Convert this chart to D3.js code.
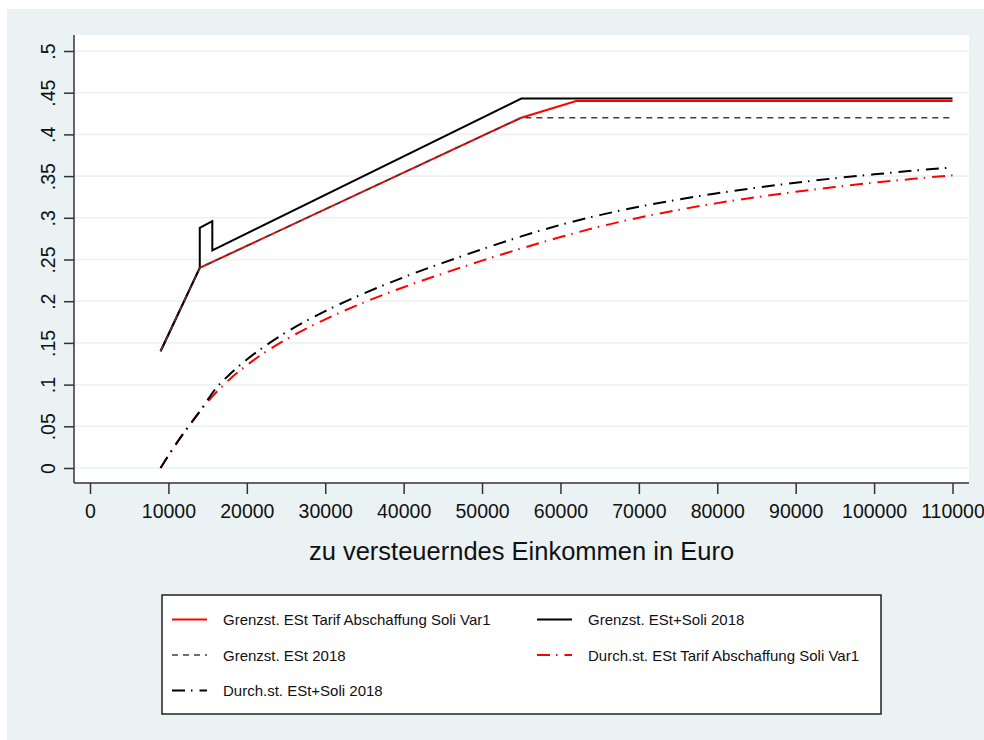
<!DOCTYPE html>
<meta charset="utf-8">

<style>
	body { margin: 0; background: #ffffff; }
	svg { display: block; font-family: "Liberation Sans", Arial, sans-serif; }
</style>

<svg width="984" height="740"></svg>

<script src="https://cdn.jsdelivr.net/npm/d3@7/dist/d3.min.js"></script>

<script>

	// data
	var yTicks = [0, 0.05, 0.1, 0.15, 0.2, 0.25, 0.3, 0.35, 0.4, 0.45, 0.5];
	var xTicks = [0, 10000, 20000, 30000, 40000, 50000, 60000, 70000, 80000, 90000, 100000, 110000];

	// marginal rates (piecewise linear)
	var incGrenzVar1 = [9000, 14000, 55000, 62000, 110000];
	var grenzVar1    = [0.14, 0.24, 0.42, 0.44, 0.44];

	var incGrenzSoli = [9000, 14000, 14000, 15600, 15600, 55000, 110000];
	var grenzSoli    = [0.14, 0.24, 0.288, 0.296, 0.261, 0.443, 0.443];

	var incGrenz2018 = [9000, 14000, 55000, 110000];
	var grenz2018    = [0.14, 0.24, 0.42, 0.42];

	// average rates
	var incAvg = [9000, 10000, 12000, 14000, 16000, 18000, 20000, 25000, 30000, 35000, 40000, 45000, 50000,
	              55000, 60000, 65000, 70000, 75000, 80000, 85000, 90000, 95000, 100000, 105000, 110000];
	var durchVar1 = [0, 0.015, 0.0425, 0.0678, 0.0899, 0.108, 0.1233, 0.1541, 0.1783, 0.1987, 0.2168, 0.2332, 0.2486,
	                 0.2632, 0.2769, 0.2894, 0.3001, 0.3094, 0.3176, 0.3248, 0.3312, 0.3369, 0.3421, 0.3467, 0.351];
	var durchSoli = [0, 0.015, 0.0425, 0.0678, 0.0948, 0.1139, 0.130, 0.1626, 0.1881, 0.2096, 0.2287, 0.2460, 0.2623,
	                 0.2777, 0.2915, 0.3032, 0.3132, 0.3218, 0.3294, 0.3361, 0.3420, 0.3474, 0.3521, 0.3565, 0.3604];

	var legendLabels = [
		"Grenzst. ESt Tarif Abschaffung Soli Var1",
		"Grenzst. ESt+Soli 2018",
		"Grenzst. ESt 2018",
		"Durch.st. ESt Tarif Abschaffung Soli Var1",
		"Durch.st. ESt+Soli 2018"
	];

	var svg = d3.select("svg");

	var plot = {left: 74, right: 969, top: 35, bottom: 483};

	var x = d3.scaleLinear().domain([0, 110000]).range([90, 952.5]);
	var y = d3.scaleLinear().domain([0, 0.5]).range([468, 51]);

	var bg = "#eaf2f3";
	var textColor = "#111";

	// outer background + plot region
	svg.append("rect").attr("x", 7).attr("y", 9).attr("width", 977).attr("height", 731).attr("fill", bg);
	svg.append("rect")
		.attr("x", plot.left).attr("y", plot.top)
		.attr("width", plot.right - plot.left).attr("height", plot.bottom - plot.top)
		.attr("fill", "#fff");

	// grid
	svg.append("g").selectAll("line")
		.data(yTicks)
		.enter().append("line")
			.attr("x1", plot.left).attr("x2", plot.right)
			.attr("y1", function(d) { return y(d); })
			.attr("y2", function(d) { return y(d); })
			.attr("stroke", bg)
			.attr("stroke-width", 1.6);

	// y axis
	var yAxis = svg.append("g")
		.attr("transform", "translate(" + plot.left + ",0)")
		.call(d3.axisLeft(y).tickValues(yTicks).tickSize(10).tickPadding(0)
			.tickFormat(function(d) { return d === 0 ? "0" : d3.format(".2~f")(d).replace(/^0/, ""); }));
	yAxis.select(".domain").attr("d", "M0," + plot.top + "V" + plot.bottom);

	yAxis.selectAll("text")
		.attr("x", 0).attr("dy", 0)
		.attr("transform", "translate(-19,0) rotate(-90)")
		.attr("text-anchor", "middle")
		.attr("font-size", 19.5)
		.attr("font-family", "'Liberation Sans', Arial, sans-serif")
		.attr("fill", textColor);

	// x axis
	var xAxis = svg.append("g")
		.attr("transform", "translate(0," + plot.bottom + ")")
		.call(d3.axisBottom(x).tickValues(xTicks).tickSize(11).tickPadding(0).tickFormat(d3.format("d")));
	xAxis.select(".domain").attr("d", "M" + plot.left + ",0H" + plot.right);
	xAxis.selectAll("text")
		.attr("y", 35).attr("dy", 0)
		.attr("font-size", 19.5)
		.attr("font-family", "'Liberation Sans', Arial, sans-serif")
		.attr("fill", textColor);

	svg.selectAll(".domain, .tick line").attr("stroke", "#333").attr("stroke-width", 1.5);

	svg.append("text")
		.attr("x", (plot.left + plot.right) / 2)
		.attr("y", 560)
		.attr("text-anchor", "middle")
		.attr("font-size", 25.5)
		.attr("fill", textColor)
		.text("zu versteuerndes Einkommen in Euro");

	// series, in the drawing order of the legend
	function pts(xs, ys) { return xs.map(function(v, i) { return [v, ys[i]]; }); }

	var styles = [
		{color: "#ff0000", dash: null, width: 2},
		{color: "#000000", dash: null, width: 2},
		{color: "#404040", dash: "6,5", width: 1.6},
		{color: "#ff0000", dash: "13,6,1.5,7", width: 2},
		{color: "#000000", dash: "13,6,1.5,7", width: 2}
	];

	var series = [
		{pts: pts(incGrenzVar1, grenzVar1), curve: d3.curveLinear},
		{pts: pts(incGrenzSoli, grenzSoli), curve: d3.curveLinear},
		{pts: pts(incGrenz2018, grenz2018), curve: d3.curveLinear},
		{pts: pts(incAvg, durchVar1), curve: d3.curveMonotoneX},
		{pts: pts(incAvg, durchSoli), curve: d3.curveMonotoneX}
	];

	series.forEach(function(s, i) {
		var line = d3.line()
			.x(function(d) { return x(d[0]); })
			.y(function(d) { return y(d[1]); })
			.curve(s.curve);
		svg.append("path")
			.datum(s.pts)
			.attr("d", line)
			.attr("fill", "none")
			.attr("stroke", styles[i].color)
			.attr("stroke-width", styles[i].width)
			.attr("stroke-dasharray", styles[i].dash)
			.attr("stroke-linejoin", "miter");
	});

	// legend
	svg.append("rect")
		.attr("x", 162).attr("y", 595).attr("width", 719).attr("height", 119)
		.attr("fill", "#fff").attr("stroke", "#222").attr("stroke-width", 1.5);

	var legend = svg.append("g").selectAll("g")
		.data(legendLabels)
		.enter().append("g")
			.attr("transform", function(d, i) {
				return "translate(" + (i % 2 === 0 ? 172 : 537) + "," + (619.5 + Math.floor(i / 2) * 35.5) + ")";
			});

	legend.append("line")
		.attr("x1", 0).attr("x2", 35)
		.attr("stroke", function(d, i) { return styles[i].color; })
		.attr("stroke-width", function(d, i) { return styles[i].width; })
		.attr("stroke-dasharray", function(d, i) { return styles[i].dash; });

	legend.append("text")
		.attr("x", 51)
		.attr("y", 5.5)
		.attr("font-size", 15)
		.attr("fill", textColor)
		.text(function(d) { return d; });

</script>
